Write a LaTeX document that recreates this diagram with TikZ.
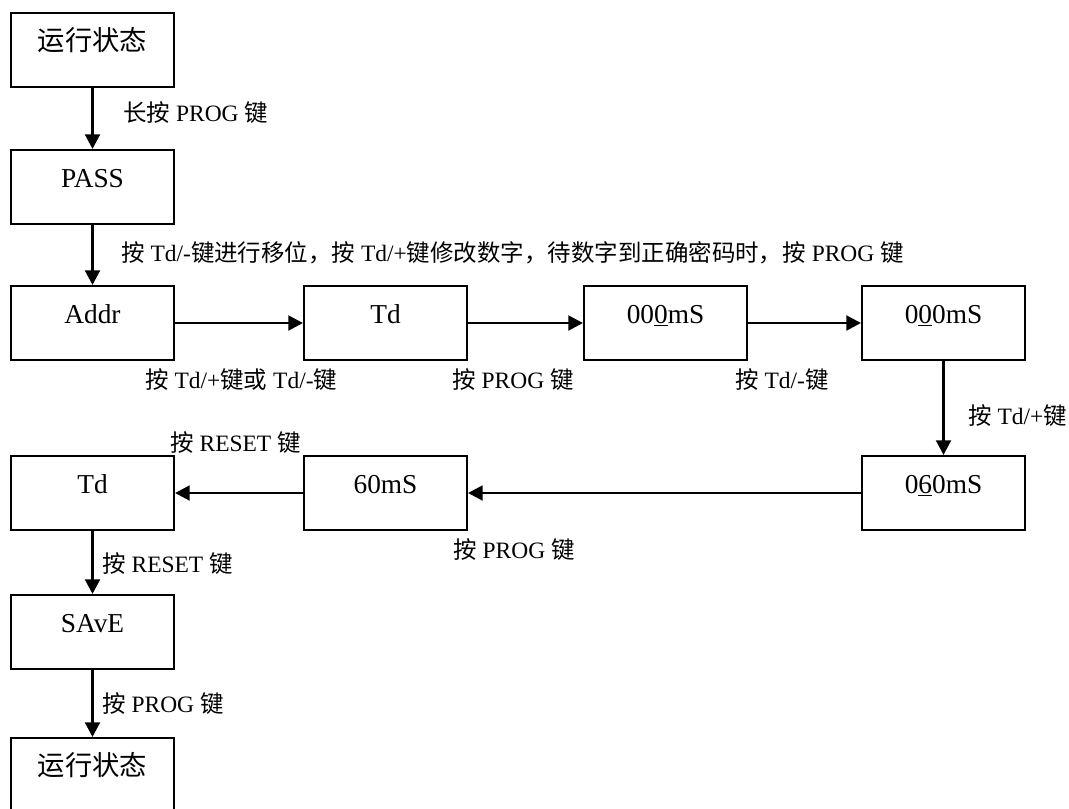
\documentclass[tikz,border=0pt]{standalone}
\usepackage{fontspec}
\setmainfont{Liberation Serif}
\newfontfamily\cjk{Noto Sans CJK SC}
\usetikzlibrary{arrows.meta}
\begin{document}
\begin{tikzpicture}[x=0.75pt,y=-0.75pt,
  box/.style={draw, line width=1.5pt, minimum width=122.25pt, minimum height=55.5pt,
    inner sep=0pt, text height=12pt, text depth=12pt,
    font=\fontsize{20.5pt}{24pt}\selectfont, anchor=north west},
  lbl/.style={anchor=west, inner sep=0pt, font=\fontsize{17.6pt}{20pt}\selectfont},
  arr/.style={line width=2.2pt, -{Triangle[length=11pt,width=11pt]}}]
\useasboundingbox (0,0) rectangle (1069,808);
\clip (0,0) rectangle (1069,808);
\node[box] (run1) at (10,12) {\cjk 运行状态};
\node[box] (pass) at (10,149) {PASS};
\node[box] (addr) at (10,285) {Addr};
\node[box] (td1) at (303,285) {Td};
\node[box] (ms1) at (583,285) {00\underline{0}mS};
\node[box] (ms2) at (861,285) {0\underline{0}0mS};
\node[box] (ms3) at (861,455) {0\underline{6}0mS};
\node[box] (ms4) at (303,455) {60mS};
\node[box] (td2) at (10,455) {Td};
\node[box] (save) at (10,594) {SAvE};
\node[box] (run2) at (10,737) {\cjk 运行状态};
\draw[arr] (run1) -- (pass);
\draw[arr] (pass) -- (addr);
\draw[arr] (addr) -- (td1);
\draw[arr] (td1) -- (ms1);
\draw[arr] (ms1) -- (ms2);
\draw[arr] (ms2) -- (ms3);
\draw[arr] (ms3) -- (ms4);
\draw[arr] (ms4) -- (td2);
\draw[arr] (td2) -- (save);
\draw[arr] (save) -- (run2);
\node[lbl] (l1) at (123,113) {{\cjk 长按} PROG {\cjk 键}};
\node[lbl] (l2) at (121,253) {{\cjk 按} Td/-{\cjk 键进行移位，按} Td/+{\cjk 键修改数字，待数字到正确密码时，按} PROG {\cjk 键}};
\node[lbl] (l3) at (145,380) {{\cjk 按} Td/+{\cjk 键或} Td/-{\cjk 键}};
\node[lbl] (l4) at (452,380) {{\cjk 按} PROG {\cjk 键}};
\node[lbl] (l5) at (735,380) {{\cjk 按} Td/-{\cjk 键}};
\node[lbl] (l6) at (968,416) {{\cjk 按} Td/+{\cjk 键}};
\node[lbl] (l7) at (170,443) {{\cjk 按} RESET {\cjk 键}};
\node[lbl] (l8) at (453,550) {{\cjk 按} PROG {\cjk 键}};
\node[lbl] (l9) at (102,564) {{\cjk 按} RESET {\cjk 键}};
\node[lbl] (l10) at (102,704) {{\cjk 按} PROG {\cjk 键}};
\end{tikzpicture}
\end{document}
